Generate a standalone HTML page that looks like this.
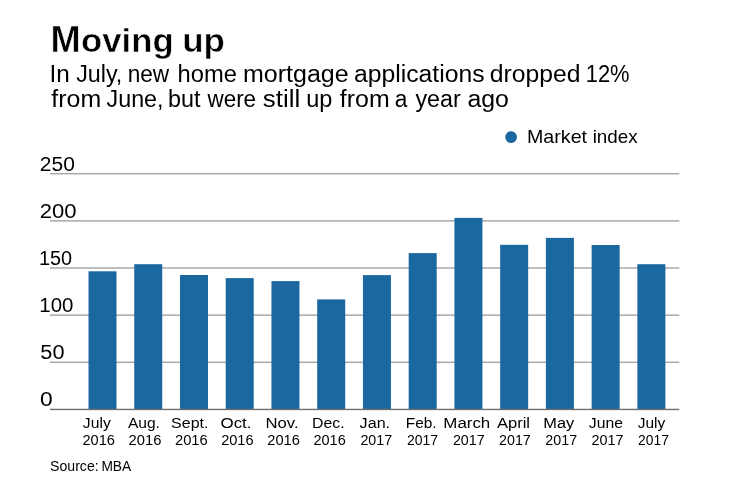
<!DOCTYPE html>
<html><head><meta charset="utf-8"><style>
html,body{margin:0;padding:0;background:#fff;}
svg{display:block;will-change:transform;font-family:"Liberation Sans", sans-serif;}
</style></head><body>
<svg width="740" height="482" viewBox="0 0 740 482">
<rect width="740" height="482" fill="#fff"/>
<rect x="50" y="172.95" width="629.3" height="1.5" fill="#a9a9a9"/>
<rect x="50" y="220.15" width="629.3" height="1.5" fill="#a9a9a9"/>
<rect x="50" y="267.25" width="629.3" height="1.5" fill="#a9a9a9"/>
<rect x="50" y="314.40" width="629.3" height="1.5" fill="#a9a9a9"/>
<rect x="50" y="361.55" width="629.3" height="1.5" fill="#a9a9a9"/>
<rect x="88.50" y="271.30" width="28" height="138.20" fill="#1b67a0"/>
<rect x="134.24" y="264.20" width="28" height="145.30" fill="#1b67a0"/>
<rect x="179.98" y="275.00" width="28" height="134.50" fill="#1b67a0"/>
<rect x="225.72" y="278.10" width="28" height="131.40" fill="#1b67a0"/>
<rect x="271.46" y="281.10" width="28" height="128.40" fill="#1b67a0"/>
<rect x="317.20" y="299.40" width="28" height="110.10" fill="#1b67a0"/>
<rect x="362.94" y="275.10" width="28" height="134.40" fill="#1b67a0"/>
<rect x="408.68" y="253.10" width="28" height="156.40" fill="#1b67a0"/>
<rect x="454.42" y="217.90" width="28" height="191.60" fill="#1b67a0"/>
<rect x="500.16" y="244.80" width="28" height="164.70" fill="#1b67a0"/>
<rect x="545.90" y="237.90" width="28" height="171.60" fill="#1b67a0"/>
<rect x="591.64" y="245.00" width="28" height="164.50" fill="#1b67a0"/>
<rect x="637.38" y="264.20" width="28" height="145.30" fill="#1b67a0"/>
<rect x="50" y="408.75" width="629.3" height="1.4" fill="#6f6f6f"/>
<circle cx="511.1" cy="137.1" r="5.9" fill="#1b67a0"/>
<text x="50.45" y="51.70" font-size="37" font-weight="700" textLength="30.17" lengthAdjust="spacingAndGlyphs" fill="#000" stroke="#fff" stroke-width="0.5">M</text>
<text x="81.12" y="51.70" font-size="33" font-weight="700" textLength="92.50" lengthAdjust="spacingAndGlyphs" fill="#000" stroke="#fff" stroke-width="0.5">oving</text>
<text x="182.21" y="51.70" font-size="33" font-weight="700" textLength="42.76" lengthAdjust="spacingAndGlyphs" fill="#000" stroke="#fff" stroke-width="0.5">up</text>
<text x="49.51" y="82.40" font-size="23.3" textLength="20.29" lengthAdjust="spacingAndGlyphs" fill="#000">In</text>
<text x="76.15" y="82.40" font-size="23.3" textLength="46.19" lengthAdjust="spacingAndGlyphs" fill="#000">July,</text>
<text x="127.64" y="82.40" font-size="23.3" textLength="41.56" lengthAdjust="spacingAndGlyphs" fill="#000">new</text>
<text x="177.57" y="82.40" font-size="23.3" textLength="59.38" lengthAdjust="spacingAndGlyphs" fill="#000">home</text>
<text x="242.99" y="82.40" font-size="23.3" textLength="105.60" lengthAdjust="spacingAndGlyphs" fill="#000">mortgage</text>
<text x="354.04" y="82.40" font-size="23.3" textLength="130.51" lengthAdjust="spacingAndGlyphs" fill="#000">applications</text>
<text x="489.74" y="82.40" font-size="23.3" textLength="90.65" lengthAdjust="spacingAndGlyphs" fill="#000">dropped</text>
<text x="585.75" y="82.40" font-size="23.3" textLength="43.85" lengthAdjust="spacingAndGlyphs" fill="#000">12%</text>
<text x="51.33" y="107.20" font-size="23.3" textLength="49.82" lengthAdjust="spacingAndGlyphs" fill="#000">from</text>
<text x="106.55" y="107.20" font-size="23.3" textLength="56.95" lengthAdjust="spacingAndGlyphs" fill="#000">June,</text>
<text x="168.10" y="107.20" font-size="23.3" textLength="32.44" lengthAdjust="spacingAndGlyphs" fill="#000">but</text>
<text x="207.50" y="107.20" font-size="23.3" textLength="48.56" lengthAdjust="spacingAndGlyphs" fill="#000">were</text>
<text x="262.87" y="107.20" font-size="23.3" textLength="37.40" lengthAdjust="spacingAndGlyphs" fill="#000">still</text>
<text x="306.19" y="107.20" font-size="23.3" textLength="26.14" lengthAdjust="spacingAndGlyphs" fill="#000">up</text>
<text x="339.83" y="107.20" font-size="23.3" textLength="49.82" lengthAdjust="spacingAndGlyphs" fill="#000">from</text>
<text x="394.72" y="107.20" font-size="23.3" textLength="12.64" lengthAdjust="spacingAndGlyphs" fill="#000">a</text>
<text x="415.50" y="107.20" font-size="23.3" textLength="45.23" lengthAdjust="spacingAndGlyphs" fill="#000">year</text>
<text x="467.43" y="107.20" font-size="23.3" textLength="41.50" lengthAdjust="spacingAndGlyphs" fill="#000">ago</text>
<text x="527.01" y="142.70" font-size="18.5" textLength="60.04" lengthAdjust="spacingAndGlyphs" fill="#000">Market</text>
<text x="592.68" y="142.70" font-size="18.5" textLength="44.95" lengthAdjust="spacingAndGlyphs" fill="#000">index</text>
<text x="39.83" y="170.60" font-size="19.7" textLength="35.01" lengthAdjust="spacingAndGlyphs" fill="#000">250</text>
<text x="39.78" y="217.80" font-size="19.7" textLength="36.80" lengthAdjust="spacingAndGlyphs" fill="#000">200</text>
<text x="38.99" y="264.90" font-size="19.7" textLength="33.13" lengthAdjust="spacingAndGlyphs" fill="#000">150</text>
<text x="39.34" y="312.05" font-size="19.7" textLength="34.09" lengthAdjust="spacingAndGlyphs" fill="#000">100</text>
<text x="40.37" y="359.20" font-size="19.7" textLength="24.15" lengthAdjust="spacingAndGlyphs" fill="#000">50</text>
<text x="40.03" y="406.40" font-size="19.7" textLength="12.68" lengthAdjust="spacingAndGlyphs" fill="#000">0</text>
<text x="50.06" y="470.50" font-size="14.3" textLength="48.60" lengthAdjust="spacingAndGlyphs" fill="#000">Source:</text>
<text x="101.44" y="470.50" font-size="14.3" textLength="29.74" lengthAdjust="spacingAndGlyphs" fill="#000">MBA</text>
<text x="82.85" y="427.90" font-size="15.4" textLength="27.88" lengthAdjust="spacingAndGlyphs" fill="#000">July</text>
<text x="82.39" y="445.10" font-size="15.4" textLength="32.59" lengthAdjust="spacingAndGlyphs" fill="#000">2016</text>
<text x="127.90" y="427.90" font-size="15.4" textLength="32.04" lengthAdjust="spacingAndGlyphs" fill="#000">Aug.</text>
<text x="128.58" y="445.10" font-size="15.4" textLength="32.80" lengthAdjust="spacingAndGlyphs" fill="#000">2016</text>
<text x="171.12" y="427.90" font-size="15.4" textLength="37.31" lengthAdjust="spacingAndGlyphs" fill="#000">Sept.</text>
<text x="174.98" y="445.10" font-size="15.4" textLength="32.69" lengthAdjust="spacingAndGlyphs" fill="#000">2016</text>
<text x="220.47" y="427.90" font-size="15.4" textLength="31.07" lengthAdjust="spacingAndGlyphs" fill="#000">Oct.</text>
<text x="221.19" y="445.10" font-size="15.4" textLength="32.38" lengthAdjust="spacingAndGlyphs" fill="#000">2016</text>
<text x="265.44" y="427.90" font-size="15.4" textLength="33.13" lengthAdjust="spacingAndGlyphs" fill="#000">Nov.</text>
<text x="267.29" y="445.10" font-size="15.4" textLength="32.59" lengthAdjust="spacingAndGlyphs" fill="#000">2016</text>
<text x="312.02" y="427.90" font-size="15.4" textLength="32.53" lengthAdjust="spacingAndGlyphs" fill="#000">Dec.</text>
<text x="313.49" y="445.10" font-size="15.4" textLength="32.28" lengthAdjust="spacingAndGlyphs" fill="#000">2016</text>
<text x="359.64" y="427.90" font-size="15.4" textLength="30.47" lengthAdjust="spacingAndGlyphs" fill="#000">Jan.</text>
<text x="360.40" y="445.10" font-size="15.4" textLength="31.79" lengthAdjust="spacingAndGlyphs" fill="#000">2017</text>
<text x="405.75" y="427.90" font-size="15.4" textLength="30.85" lengthAdjust="spacingAndGlyphs" fill="#000">Feb.</text>
<text x="406.92" y="445.10" font-size="15.4" textLength="31.16" lengthAdjust="spacingAndGlyphs" fill="#000">2017</text>
<text x="443.33" y="427.90" font-size="15.4" textLength="46.88" lengthAdjust="spacingAndGlyphs" fill="#000">March</text>
<text x="452.90" y="445.10" font-size="15.4" textLength="31.79" lengthAdjust="spacingAndGlyphs" fill="#000">2017</text>
<text x="496.90" y="427.90" font-size="15.4" textLength="33.16" lengthAdjust="spacingAndGlyphs" fill="#000">April</text>
<text x="499.00" y="445.10" font-size="15.4" textLength="31.79" lengthAdjust="spacingAndGlyphs" fill="#000">2017</text>
<text x="543.37" y="427.90" font-size="15.4" textLength="30.91" lengthAdjust="spacingAndGlyphs" fill="#000">May</text>
<text x="545.30" y="445.10" font-size="15.4" textLength="31.79" lengthAdjust="spacingAndGlyphs" fill="#000">2017</text>
<text x="588.84" y="427.90" font-size="15.4" textLength="34.09" lengthAdjust="spacingAndGlyphs" fill="#000">June</text>
<text x="591.50" y="445.10" font-size="15.4" textLength="32.00" lengthAdjust="spacingAndGlyphs" fill="#000">2017</text>
<text x="637.75" y="427.90" font-size="15.4" textLength="27.48" lengthAdjust="spacingAndGlyphs" fill="#000">July</text>
<text x="638.02" y="445.10" font-size="15.4" textLength="30.85" lengthAdjust="spacingAndGlyphs" fill="#000">2017</text>
</svg>
</body></html>
